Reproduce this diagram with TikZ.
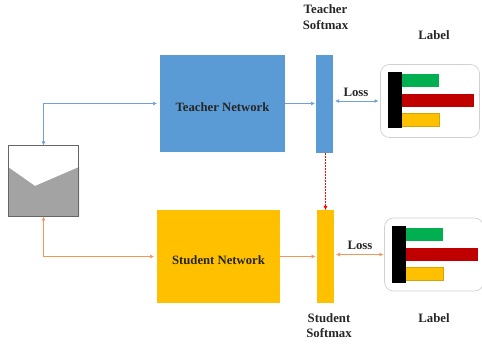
\documentclass[tikz,border=0pt]{standalone}
\usepackage{fontspec}
\setmainfont{Liberation Serif}
\usetikzlibrary{arrows.meta}
\definecolor{tblue}{HTML}{5B9BD5}
\definecolor{lineblue}{HTML}{6F9FDC}
\definecolor{sorange}{HTML}{FFC000}
\definecolor{lineorange}{HTML}{F4955A}
\definecolor{bargreen}{HTML}{00B050}
\definecolor{barred}{HTML}{C00000}
\tikzset{
  px/.style={x=1pt,y=-1pt},
  lbl/.style={font=\bfseries\fontsize{12.8}{15.5}\selectfont,align=center,text=black!85,inner sep=0pt},
  netlbl/.style={font=\bfseries\fontsize{12.7}{15}\selectfont,text=black!85,yshift=-4pt},
  blueline/.style={draw=lineblue,line width=0.7pt,-{Latex[length=4pt,width=4pt]}},
  blueboth/.style={blueline,{Latex[length=4pt,width=4pt]}-{Latex[length=4pt,width=4pt]}},
  orangeline/.style={draw=lineorange,line width=0.7pt,-{Latex[length=4pt,width=4pt]}},
  orangeboth/.style={orangeline,{Latex[length=4pt,width=4pt]}-{Latex[length=4pt,width=4pt]}},
  panel/.style={draw=black!18,line width=0.7pt,fill=white,rounded corners=9pt,inner sep=0pt,outer sep=0pt,anchor=north west},
  bar/.style={inner sep=0pt,outer sep=0pt,anchor=north west}
}
\begin{document}
\begin{tikzpicture}[px]
\useasboundingbox (0,0) rectangle (482,344);
% dataset
\fill[white] (8,145) rectangle (79,216);
\fill[black!36] (8,167) -- (35,186) -- (79,167) -- (79,216) -- (8,216) -- cycle;
\node[draw=black!60,line width=0.8pt,minimum width=70pt,minimum height=71pt,inner sep=0pt,outer sep=0pt,anchor=north west] (data) at (8.5,145.5) {};
% networks
\node[bar,fill=tblue,minimum width=125pt,minimum height=97pt,label={[netlbl]center:Teacher Network}] (teacher) at (160,55) {};
\node[bar,fill=sorange,minimum width=123pt,minimum height=93pt,label={[netlbl]center:Student Network}] (student) at (157,210) {};
% softmax
\node[bar,fill=tblue,minimum width=17pt,minimum height=98pt] (tsoft) at (316,55) {};
\node[bar,fill=sorange,minimum width=17pt,minimum height=93pt] (ssoft) at (317,210) {};
% label panel teacher
\node[panel,minimum width=99pt,minimum height=73pt] (tpanel) at (380.5,64.5) {};
\node[bar,fill=bargreen,minimum width=38pt,minimum height=13pt] (tg) at (401,74.5) {};
\node[bar,fill=barred,minimum width=73pt,minimum height=13pt] (tr) at (401,94) {};
\node[bar,fill=sorange,draw=sorange!85!black,line width=0.4pt,minimum width=38pt,minimum height=13pt] (ty) at (401,113) {};
\node[bar,fill=black,minimum width=13.5pt,minimum height=56pt] (tk) at (388,72) {};
% label panel student
\node[panel,minimum width=99pt,minimum height=73pt] (spanel) at (384.5,218) {};
\node[bar,fill=bargreen,minimum width=38pt,minimum height=13pt] (sg) at (405,228) {};
\node[bar,fill=barred,minimum width=73pt,minimum height=13pt] (sr) at (405,248) {};
\node[bar,fill=sorange,draw=sorange!85!black,line width=0.4pt,minimum width=38pt,minimum height=13pt] (sy) at (405,267) {};
\node[bar,fill=black,minimum width=13.5pt,minimum height=57pt] (sk) at (392,226) {};
% texts
\node[lbl] (t1) at (325.5,17) {Teacher\\Softmax};
\node[lbl] (t2) at (434,35) {Label};
\node[lbl] (t3) at (356,92) {Loss};
\node[lbl] (t4) at (360,245) {Loss};
\node[lbl] (t5) at (329,325.5) {Student\\Softmax};
\node[lbl] (t6) at (434,318) {Label};
% connectors
\draw[blueboth] (data.north) |- ([xshift=-3pt]teacher.west);
\draw[orangeboth] (data.south) |- ([xshift=-3pt]student.west);
\draw[blueline,shorten >=1pt] (teacher.east) -- (tsoft.west |- teacher.east);
\draw[orangeline,shorten >=1.5pt] (student.east) -- (ssoft.west |- student.east);
\draw[blueboth,shorten <=2pt,shorten >=2pt] (tsoft.east |- tpanel.west) -- (tpanel.west);
\draw[orangeboth,shorten <=2pt,shorten >=1pt] (ssoft.east |- spanel.west) -- (spanel.west);
\draw[draw=red,line width=0.5pt,densely dotted,-{Latex[length=4pt,width=4pt]}] (ssoft.north |- tsoft.south) -- (ssoft.north);
\end{tikzpicture}
\end{document}
